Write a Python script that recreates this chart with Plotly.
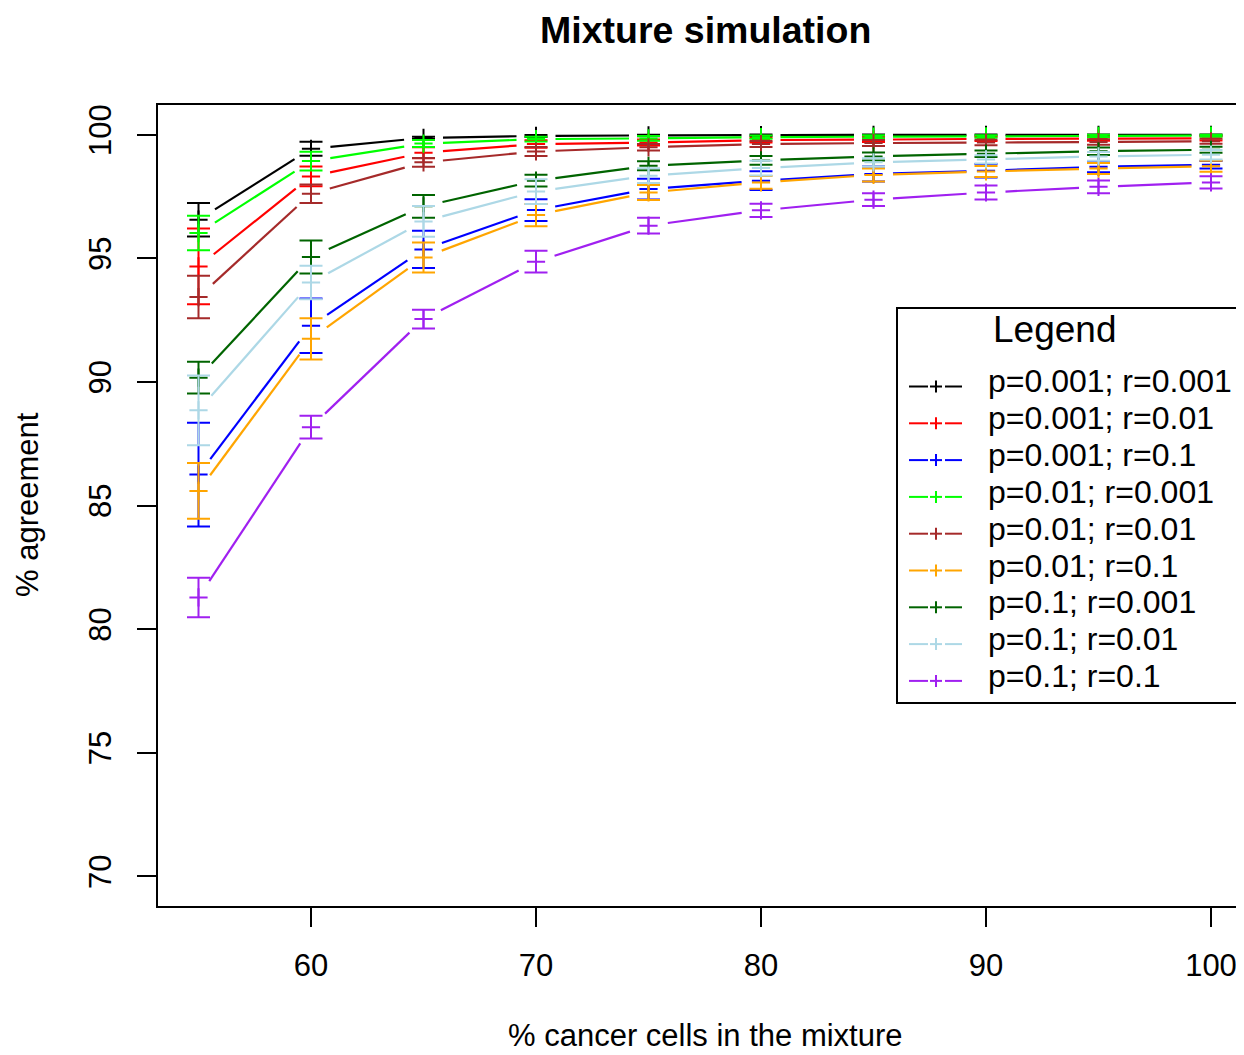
import math
import plotly.graph_objects as go

# ---------------- data ----------------
pct_cancer = [55, 60, 65, 70, 75, 80, 85, 90, 95, 100]

series_labels = [
    "p=0.001; r=0.001", "p=0.001; r=0.01", "p=0.001; r=0.1",
    "p=0.01; r=0.001", "p=0.01; r=0.01", "p=0.01; r=0.1",
    "p=0.1; r=0.001", "p=0.1; r=0.01", "p=0.1; r=0.1",
]
series_colors = ["#000000", "#FF0000", "#0000FF", "#00FF00", "#A52A2A",
                 "#FFA500", "#006400", "#ADD8E6", "#A020F0"]

agree_p001_r0001 = [96.56, 99.43, 99.87, 99.95, 99.97, 99.98, 99.99, 99.99, 99.99, 99.99]
agree_p001_r001 = [94.67, 98.31, 99.27, 99.62, 99.68, 99.78, 99.80, 99.83, 99.84, 99.85]
agree_p001_r01 = [86.25, 92.27, 95.36, 96.95, 97.80, 98.14, 98.41, 98.54, 98.70, 98.78]
agree_p01_r0001 = [96.02, 98.93, 99.64, 99.82, 99.85, 99.90, 99.92, 99.93, 99.95, 99.96]
agree_p01_r001 = [93.43, 97.61, 98.88, 99.32, 99.49, 99.62, 99.66, 99.68, 99.70, 99.73]
agree_p01_r01 = [85.59, 91.74, 95.03, 96.75, 97.66, 98.07, 98.37, 98.51, 98.63, 98.72]
agree_p1_r0001 = [90.17, 95.05, 97.10, 98.14, 98.74, 98.96, 99.12, 99.23, 99.33, 99.39]
agree_p1_r001 = [88.85, 94.02, 96.49, 97.70, 98.34, 98.65, 98.88, 99.00, 99.12, 99.19]
agree_p1_r01 = [81.28, 88.17, 92.54, 94.86, 96.32, 96.94, 97.37, 97.66, 97.89, 98.07]

err_p001_r0001 = [0.68, 0.28, 0.05, 0.04, 0.03, 0.03, 0.02, 0.02, 0.02, 0.02]
err_p001_r001 = [1.53, 0.40, 0.22, 0.15, 0.12, 0.10, 0.10, 0.09, 0.09, 0.09]
err_p001_r01 = [2.10, 1.10, 0.75, 0.44, 0.42, 0.38, 0.30, 0.27, 0.22, 0.15]
err_p01_r0001 = [0.70, 0.38, 0.14, 0.10, 0.10, 0.07, 0.06, 0.05, 0.05, 0.04]
err_p01_r001 = [0.86, 0.37, 0.18, 0.18, 0.13, 0.12, 0.12, 0.11, 0.11, 0.10]
err_p01_r01 = [1.13, 0.83, 0.61, 0.45, 0.30, 0.26, 0.26, 0.22, 0.22, 0.22]
err_p1_r0001 = [0.64, 0.67, 0.46, 0.24, 0.18, 0.18, 0.16, 0.13, 0.15, 0.12]
err_p1_r001 = [1.41, 0.68, 0.62, 0.50, 0.30, 0.30, 0.17, 0.17, 0.18, 0.19]
err_p1_r01 = [0.80, 0.46, 0.38, 0.44, 0.32, 0.27, 0.26, 0.28, 0.26, 0.25]

x_ticks = [60, 70, 80, 90, 100]
y_ticks = [70, 75, 80, 85, 90, 95, 100]

means = [agree_p001_r0001, agree_p001_r001, agree_p001_r01, agree_p01_r0001,
         agree_p01_r001, agree_p01_r01, agree_p1_r0001, agree_p1_r001, agree_p1_r01]
errs = [err_p001_r0001, err_p001_r001, err_p001_r01, err_p01_r0001,
        err_p01_r001, err_p01_r01, err_p1_r0001, err_p1_r001, err_p1_r01]

# ---------------- layout geometry ----------------
OFF = 8  # default page body margin
W, H = 1244 - OFF, 1055 - OFF
PLOT_L, PLOT_T, PLOT_B = 158, 105, 906   # page pixels of plot box
ML, MT = PLOT_L - OFF, PLOT_T - OFF
MB = H - (PLOT_B - OFF)
MR = 0
PW, PH = W - ML - MR, H - MT - MB
X_RANGE = [53.2, 53.2 + PW / 22.5]
Y_RANGE = [68.8, 101.2]
SX = PW / (X_RANGE[1] - X_RANGE[0])   # px per x unit
SY = PH / (Y_RANGE[1] - Y_RANGE[0])   # px per y unit
GAP = 19.5  # px gap around points (R type="b")
FONT = "Liberation Sans, Arial, Helvetica, sans-serif"


def px_x(p):
    return (p - OFF - ML) / PW


def px_y(p):
    return (MT + PH - (p - OFF)) / PH


def gapped(xs, ys):
    gx, gy = [], []
    for i in range(len(xs) - 1):
        dx = (xs[i + 1] - xs[i]) * SX
        dy = (ys[i + 1] - ys[i]) * SY
        L = math.hypot(dx, dy)
        if L <= 2 * GAP:
            continue
        f = GAP / L
        gx += [xs[i] + (xs[i + 1] - xs[i]) * f, xs[i + 1] - (xs[i + 1] - xs[i]) * f, None]
        gy += [ys[i] + (ys[i + 1] - ys[i]) * f, ys[i + 1] - (ys[i + 1] - ys[i]) * f, None]
    return gx, gy


fig = go.Figure()
for lab, col, m, e in zip(series_labels, series_colors, means, errs):
    gx, gy = gapped(pct_cancer, m)
    fig.add_trace(go.Scatter(x=gx, y=gy, mode="lines", line=dict(color=col, width=2.2),
                             showlegend=False, hoverinfo="skip"))
    fig.add_trace(go.Scatter(
        x=pct_cancer, y=m, mode="markers", name=lab, showlegend=False,
        marker=dict(symbol="cross-thin", size=13, color=col, line=dict(color=col, width=2)),
        error_y=dict(type="data", array=e, visible=True, color=col, thickness=2, width=11.5),
    ))

# ---------------- custom legend (R style) ----------------
shapes = []
annotations = []
LEG_L, LEG_T, LEG_B = 897, 308, 703
shapes.append(dict(type="rect", xref="paper", yref="paper",
                   x0=px_x(LEG_L), x1=px_x(1270), y0=px_y(LEG_B), y1=px_y(LEG_T),
                   line=dict(color="black", width=2), fillcolor="white", layer="above"))
annotations.append(dict(text="Legend", xref="paper", yref="paper", x=px_x(1054), y=px_y(329),
                        xanchor="center", yanchor="middle", showarrow=False,
                        font=dict(size=37, color="black", family=FONT)))
for i, (lab, col) in enumerate(zip(series_labels, series_colors)):
    yc = 386.5 + i * 36.8
    for a, b in [(909, 928), (945, 962), (930, 942)]:
        shapes.append(dict(type="line", xref="paper", yref="paper",
                           x0=px_x(a), x1=px_x(b), y0=px_y(yc), y1=px_y(yc),
                           line=dict(color=col, width=2), layer="above"))
    shapes.append(dict(type="line", xref="paper", yref="paper",
                       x0=px_x(936), x1=px_x(936), y0=px_y(yc - 6), y1=px_y(yc + 6),
                       line=dict(color=col, width=2), layer="above"))
    annotations.append(dict(text=lab, xref="paper", yref="paper", x=px_x(986), y=px_y(yc - 5),
                            xanchor="left", yanchor="middle", showarrow=False,
                            font=dict(size=32, color="black", family=FONT)))

# titles
annotations.append(dict(text="<b>Mixture simulation</b>", xref="paper", yref="paper",
                        x=px_x(705), y=px_y(30), xanchor="center", yanchor="middle",
                        showarrow=False, font=dict(size=37.5, color="black", family=FONT)))
annotations.append(dict(text="% cancer cells in the mixture", xref="paper", yref="paper",
                        x=px_x(705), y=px_y(1035), xanchor="center", yanchor="middle",
                        showarrow=False, font=dict(size=31, color="black", family=FONT)))
annotations.append(dict(text="% agreement", xref="paper", yref="paper",
                        x=px_x(27), y=px_y(505), xanchor="center", yanchor="middle",
                        textangle=-90, showarrow=False,
                        font=dict(size=31, color="black", family=FONT)))

fig.update_layout(
    width=W, height=H,
    margin=dict(l=ML, r=MR, t=MT, b=MB),
    paper_bgcolor="white", plot_bgcolor="white",
    font=dict(family=FONT, size=31, color="black"),
    showlegend=False,
    shapes=shapes, annotations=annotations,
    xaxis=dict(range=X_RANGE, tickvals=x_ticks, ticks="outside", ticklen=19, tickwidth=2,
               tickcolor="black", showline=True, linewidth=2, linecolor="black", mirror=True,
               showgrid=False, zeroline=False, tickfont=dict(size=31), ticklabelstandoff=12),
    yaxis=dict(range=Y_RANGE, tickvals=y_ticks, ticks="outside", ticklen=19, tickwidth=2,
               tickcolor="black", showline=True, linewidth=2, linecolor="black",
               showgrid=False, zeroline=False, tickangle=-90, tickfont=dict(size=31),
               ticklabelstandoff=14),
)

fig.write_html("out.html")
